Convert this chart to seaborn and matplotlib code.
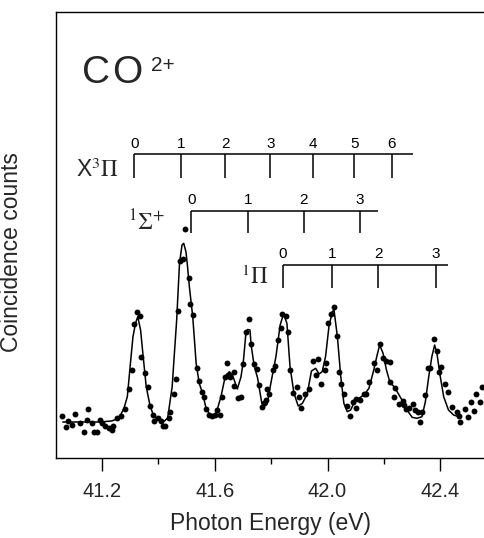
import matplotlib
matplotlib.use("Agg")
import matplotlib.pyplot as plt
import seaborn as sns
import pandas as pd
from matplotlib.ticker import MultipleLocator

# ---------------- data ----------------
energy_pts = [41.060, 41.072, 41.080, 41.094, 41.106, 41.121, 41.135, 41.148, 41.150, 41.165,
              41.171, 41.182, 41.192, 41.201, 41.210, 41.225, 41.235, 41.239, 41.253, 41.266,
              41.283, 41.295, 41.307, 41.312, 41.323, 41.334, 41.340, 41.352, 41.364, 41.370,
              41.380, 41.386, 41.399, 41.410, 41.418, 41.425, 41.437, 41.443, 41.454, 41.463,
              41.469, 41.478, 41.486, 41.495, 41.508, 41.514, 41.524, 41.536, 41.543, 41.554,
              41.563, 41.569, 41.581, 41.590, 41.601, 41.608, 41.619, 41.626, 41.636, 41.642,
              41.648, 41.655, 41.667, 41.669, 41.684, 41.694, 41.699, 41.711, 41.721, 41.728,
              41.740, 41.749, 41.757, 41.766, 41.773, 41.781, 41.785, 41.793, 41.807, 41.813,
              41.825, 41.834, 41.840, 41.854, 41.861, 41.867, 41.879, 41.891, 41.899, 41.907,
              41.920, 41.934, 41.949, 41.966, 41.960, 41.978, 41.990, 41.996, 42.003, 42.011,
              42.023, 42.032, 42.042, 42.049, 42.058, 42.068, 42.079, 42.090, 42.100, 42.102,
              42.114, 42.129, 42.138, 42.147, 42.164, 42.176, 42.185, 42.197, 42.207, 42.220,
              42.223, 42.239, 42.237, 42.253, 42.267, 42.271, 42.278, 42.288, 42.302, 42.312,
              42.320, 42.329, 42.335, 42.347, 42.356, 42.365, 42.376, 42.388, 42.397, 42.402,
              42.415, 42.427, 42.441, 42.459, 42.465, 42.471, 42.486, 42.500, 42.510, 42.518,
              42.527, 42.542, 42.547]
counts_pts = [42.3, 31.3, 37.3, 32.7, 44.0, 35.3, 26.0, 38.0, 49.0, 34.7,
              26.0, 26.0, 38.0, 34.7, 32.3, 30.3, 28.0, 32.3, 40.3, 42.0,
              48.7, 68.7, 87.7, 133.7, 146.0, 142.0, 101.3, 85.3, 71.3, 52.0,
              43.0, 37.0, 40.3, 37.0, 32.0, 32.0, 40.3, 46.3, 64.0, 79.3,
              147.3, 197.3, 198.7, 229.0, 179.7, 154.0, 143.0, 90.3, 76.7, 65.7,
              60.7, 48.7, 43.0, 42.3, 43.3, 48.0, 43.0, 60.7, 81.3, 95.3,
              83.0, 81.3, 86.3, 72.0, 59.7, 60.7, 93.7, 126.3, 139.0, 113.7,
              94.0, 89.0, 73.0, 51.3, 54.7, 58.0, 68.7, 64.0, 88.0, 92.3,
              118.0, 129.7, 144.0, 142.3, 126.0, 87.7, 65.3, 70.7, 61.3, 49.7,
              63.7, 68.7, 97.0, 98.7, 83.0, 73.7, 88.0, 94.7, 134.7, 143.7,
              150.7, 122.3, 85.7, 74.0, 64.0, 52.3, 42.0, 56.3, 49.7, 58.7,
              58.0, 64.0, 63.7, 76.3, 94.7, 88.0, 113.7, 99.7, 97.0, 96.3,
              75.7, 69.7, 61.3, 54.0, 57.3, 53.0, 49.0, 49.7, 54.0, 48.0,
              45.7, 36.3, 46.3, 63.0, 89.7, 89.7, 118.7, 107.0, 86.3, 91.3,
              74.0, 66.3, 51.3, 46.3, 42.0, 36.3, 48.7, 40.7, 56.3, 47.3,
              63.7, 56.3, 71.3]

energy_fit = [41.061, 41.121, 41.192, 41.234, 41.260, 41.278, 41.290, 41.301, 41.310, 41.319,
              41.327, 41.337, 41.345, 41.357, 41.370, 41.384, 41.410, 41.422, 41.433, 41.449,
              41.457, 41.465, 41.475, 41.484, 41.490, 41.498, 41.503, 41.510, 41.522, 41.534,
              41.545, 41.557, 41.569, 41.587, 41.605, 41.622, 41.637, 41.652, 41.663, 41.680,
              41.693, 41.702, 41.711, 41.717, 41.725, 41.729, 41.740, 41.752, 41.767, 41.775,
              41.786, 41.799, 41.817, 41.832, 41.844, 41.856, 41.867, 41.881, 41.896, 41.911,
              41.928, 41.943, 41.958, 41.970, 41.981, 41.993, 42.005, 42.017, 42.023, 42.035,
              42.047, 42.058, 42.070, 42.082, 42.096, 42.111, 42.129, 42.147, 42.164, 42.176,
              42.185, 42.197, 42.209, 42.223, 42.231, 42.247, 42.264, 42.282, 42.300, 42.317,
              42.335, 42.347, 42.359, 42.370, 42.380, 42.388, 42.400, 42.412, 42.429, 42.447,
              42.465, 42.475]
counts_fit = [36.0, 36.0, 36.0, 37.0, 39.7, 49.7, 61.3, 94.7, 121.3, 134.7,
              141.3, 128.0, 104.7, 71.3, 53.0, 41.3, 36.3, 37.0, 40.0, 71.3,
              105.0, 138.0, 194.7, 213.0, 214.7, 206.0, 193.0, 171.3, 141.3, 94.7,
              74.7, 64.7, 50.0, 41.0, 44.7, 61.3, 81.3, 86.3, 83.0, 69.0,
              81.0, 98.0, 126.3, 128.5, 128.0, 113.0, 92.0, 80.0, 54.7, 51.5,
              54.0, 74.7, 101.3, 133.0, 144.0, 134.7, 91.3, 64.7, 52.0, 54.7,
              64.0, 87.0, 89.7, 84.0, 86.3, 101.3, 131.3, 146.3, 148.0, 121.3,
              81.3, 54.7, 46.3, 48.0, 56.3, 59.7, 63.0, 69.7, 88.0, 103.0,
              113.0, 104.7, 88.0, 74.0, 73.0, 66.3, 58.0, 48.0, 40.7, 39.7,
              41.3, 56.3, 81.3, 101.3, 113.0, 104.7, 81.3, 61.3, 48.0, 43.0,
              41.3, 41.0]

# vibrational ladders
x3pi_levels = [41.315, 41.481, 41.637, 41.797, 41.949, 42.095, 42.228]
x3pi_end = 42.302
sigma_levels = [41.517, 41.718, 41.916, 42.115]
sigma_end = 42.180
pi1_levels = [41.842, 42.016, 42.180, 42.384]
pi1_end = 42.426

x_ticks = [41.2, 41.6, 42.0, 42.4]
x_tick_labels = ["41.2", "41.6", "42.0", "42.4"]

# ---------------- figure ----------------
sns.set_theme(style="white")
plt.rcParams["font.family"] = ["Liberation Sans", "DejaVu Sans"]
plt.rcParams["mathtext.fontset"] = "stix"

W, H = 484, 538
fig = plt.figure(figsize=(W / 100, H / 100), dpi=100)
ax = fig.add_axes([56 / W, (H - 458) / H, (W - 56) / W, (458 - 12) / H])

df_pts = pd.DataFrame({"energy": energy_pts, "counts": counts_pts})
df_fit = pd.DataFrame({"energy": energy_fit, "counts": counts_fit})

sns.lineplot(data=df_fit, x="energy", y="counts", ax=ax, color="black",
             linewidth=1.1, sort=False, estimator=None)
sns.scatterplot(data=df_pts, x="energy", y="counts", ax=ax, color="black",
                s=18, linewidth=0, zorder=3)

ax.set_xlim(41.037, 42.555)
ax.set_ylim(0, 446)

# ladders
def ladder(levels, end, y_line, y_bot, y_num):
    ax.hlines(y_line, levels[0], end, color="black", linewidth=1.1)
    ax.vlines(levels, y_bot, y_line, color="black", linewidth=1.1)
    for i, lv in enumerate(levels):
        ax.text(lv, y_num, str(i), ha="center", va="center", fontsize=11, color="black")

ladder(x3pi_levels, x3pi_end, 304, 280, 314)
ladder(sigma_levels, sigma_end, 247, 225, 258)
ladder(pi1_levels, pi1_end, 193.3, 170, 204)

ax.text(41.261, 288, r"X$^{3}\mathrm{\Pi}$", ha="right", va="center", fontsize=16.5)
ax.text(41.424, 235, r"$^{1}\mathrm{\Sigma}^{+}$", ha="right", va="center", fontsize=17)
ax.text(41.789, 181, r"$^{1}\mathrm{\Pi}$", ha="right", va="center", fontsize=16.5)

# "C O" with wide letter spacing, superscript 2+
ax.text(41.130, 375, "C", ha="left", va="baseline", fontsize=28)
ax.text(41.236, 375, "O", ha="left", va="baseline", fontsize=28)
ax.text(41.374, 387, "2+", ha="left", va="baseline", fontsize=15)

# axes styling
for side in ["left", "top", "bottom"]:
    ax.spines[side].set_visible(True)
    ax.spines[side].set_color("black")
    ax.spines[side].set_linewidth(1.0)
ax.spines["right"].set_visible(False)

ax.set_xticks(x_ticks)
ax.set_xticklabels(x_tick_labels)
ax.xaxis.set_minor_locator(MultipleLocator(0.2))
ax.tick_params(axis="x", which="major", direction="out", length=9.5, width=1.0,
               bottom=True, top=False, labelsize=14.5, pad=8, color="black")
ax.tick_params(axis="x", which="minor", direction="out", length=4.5, width=1.0,
               bottom=True, top=False, color="black")
ax.set_yticks([])

ax.set_xlabel("Photon Energy (eV)", fontsize=16.5, labelpad=8)
ax.set_ylabel("Coincidence counts", fontsize=16.5)
ax.yaxis.set_label_coords(-0.077, 0.462)

fig.savefig("out.png", dpi=100)
